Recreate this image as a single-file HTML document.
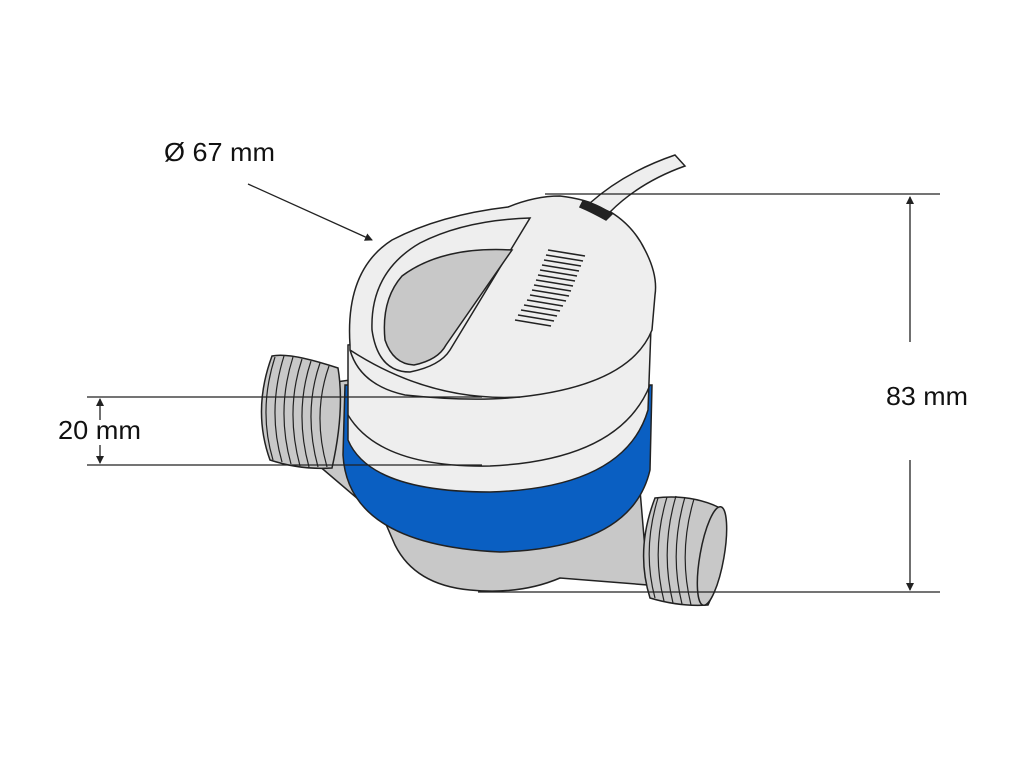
<!DOCTYPE html>
<html><head><meta charset="utf-8"><style>html,body{margin:0;padding:0;background:#fff}svg{display:block}</style></head>
<body>
<svg width="1024" height="768" viewBox="0 0 1024 768" xmlns="http://www.w3.org/2000/svg" font-family="Liberation Sans, sans-serif">
<defs>
<marker id="ah" markerWidth="8" markerHeight="8" refX="7" refY="4" orient="auto" markerUnits="userSpaceOnUse"><path d="M0,0 L8,4 L0,8 Z" fill="#222"/></marker>
</defs>
<g stroke="#222" stroke-width="1.5">
<path d="M315,385 L350,380 L640,490 L648,585 L560,578 Q520,595 470,590 Q415,585 395,545 L385,522 L318,465 Z" fill="#c8c8c8"/>
<path d="M272,356 Q290,352 338,368 Q345,410 332,468 Q300,470 270,460 Q252,410 272,356 Z" fill="#c8c8c8"/>
<g fill="none" stroke-width="1.2">
<path d="M275,357 Q258,410 273,460"/><path d="M284,356 Q267,410 282,462"/><path d="M293,357 Q276,410 291,464"/><path d="M302,359 Q285,410 300,466"/><path d="M311,361 Q294,412 309,467"/><path d="M320,363 Q303,412 318,467"/><path d="M329,366 Q312,414 327,467"/>
</g>
<path d="M655,498 Q690,494 718,507 Q732,555 708,605 Q680,607 650,598 Q635,550 655,498 Z" fill="#c8c8c8"/>
<g fill="none" stroke-width="1.2">
<path d="M658,498 Q642,550 655,598"/><path d="M667,497 Q651,550 664,601"/><path d="M676,496 Q660,550 673,603"/><path d="M685,497 Q669,552 682,604"/><path d="M694,499 Q678,552 691,605"/>
</g>
<ellipse cx="712" cy="556" rx="12" ry="50" transform="rotate(10 712 556)" fill="#c8c8c8"/>
<path d="M345,385 L343,455 Q348,545 500,552 Q632,548 650,470 L652,385 Z" fill="#0a5fc2"/>
<path d="M348,345 L348,440 Q370,492 490,492 Q625,488 648,410 L652,300 Z" fill="#eeeeee"/>
<path d="M348,415 Q380,468 490,466 Q620,460 650,385" fill="none"/>
<path d="M350,345 Q345,270 392,240 Q440,215 508,207 Q535,196 560,196 Q622,203 645,250 Q658,275 655,295 L652,330 Q630,385 520,397 Q430,402 350,350 Z" fill="#eeeeee"/>
<path d="M350,350 Q360,385 405,395 Q470,402 520,397" fill="none"/>
<path d="M530,218 Q465,220 420,243 Q370,272 372,330 Q378,372 410,372 Q440,366 450,350 Z" fill="#eeeeee"/>
<path d="M512,250 Q442,246 402,276 Q381,300 385,340 Q393,364 414,365 Q438,360 446,345 Z" fill="#c8c8c8"/>
<path d="M590,203 Q625,172 675,155 L685,166 Q640,182 610,212 Z" fill="#eeeeee"/>
<path d="M583,201 Q595,203 612,214 L606,220 Q592,212 580,207 Z" fill="#222"/>
</g>
<g stroke="#222" stroke-width="1.6">
<line x1="548" y1="250" x2="585" y2="256"/><line x1="546" y1="255" x2="583" y2="261"/><line x1="544" y1="260" x2="581" y2="266"/><line x1="542" y1="265" x2="579" y2="271"/><line x1="540" y1="270" x2="577" y2="276"/><line x1="538" y1="275" x2="575" y2="281"/><line x1="536" y1="280" x2="573" y2="286"/><line x1="534" y1="285" x2="571" y2="291"/><line x1="532" y1="290" x2="569" y2="296"/><line x1="530" y1="295" x2="566" y2="301"/><line x1="527" y1="300" x2="563" y2="306"/><line x1="524" y1="305" x2="560" y2="311"/><line x1="521" y1="310" x2="557" y2="316"/><line x1="518" y1="315" x2="554" y2="321"/><line x1="515" y1="320" x2="551" y2="326"/>
</g>
<g stroke="#222" stroke-width="1.3" fill="none">
<line x1="545" y1="194" x2="940" y2="194"/>
<line x1="478" y1="592" x2="940" y2="592"/>
<line x1="910" y1="342" x2="910" y2="197" marker-end="url(#ah)"/>
<line x1="910" y1="460" x2="910" y2="590" marker-end="url(#ah)"/>
<line x1="87" y1="397" x2="482" y2="397"/>
<line x1="87" y1="465" x2="482" y2="465"/>
<line x1="100" y1="420" x2="100" y2="399" marker-end="url(#ah)"/>
<line x1="100" y1="445" x2="100" y2="463" marker-end="url(#ah)"/>
<line x1="248" y1="184" x2="372" y2="240" marker-end="url(#ah)"/>
</g>
<g fill="#111" font-size="26">
<text x="164" y="161" textLength="111" lengthAdjust="spacingAndGlyphs">Ø 67 mm</text>
<text x="886" y="405" textLength="82" lengthAdjust="spacingAndGlyphs">83 mm</text>
<text x="58" y="439" textLength="83" lengthAdjust="spacingAndGlyphs">20 mm</text>
</g>
</svg>
</body></html>
